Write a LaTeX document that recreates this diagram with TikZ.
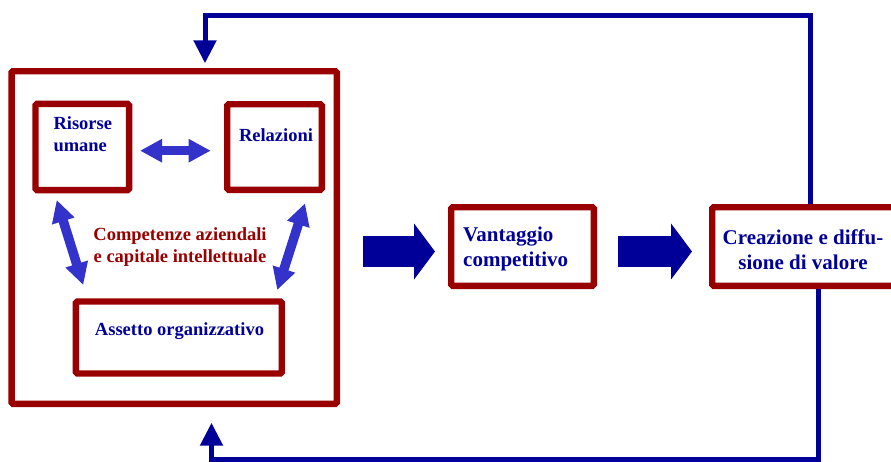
\documentclass[tikz,border=0pt]{standalone}
\usepackage{fontspec}
\setmainfont{Liberation Serif}
\usetikzlibrary{positioning}
\usetikzlibrary{arrows.meta}
\definecolor{boxred}{HTML}{990000}
\definecolor{navy}{HTML}{000099}
\definecolor{duplexblue}{HTML}{3333CC}
\tikzset{
  box/.style={draw=boxred, line width=6.4pt, rounded corners=1.5pt, inner sep=0pt},
  boxtext/.style={text=navy, font=\fontsize{18.5}{22}\selectfont\bfseries, inner sep=0pt},
  bigtext/.style={text=navy, font=\fontsize{21}{25}\selectfont\bfseries, inner sep=0pt},
  duplex/.style={draw=duplexblue, line width=9.5pt, {Triangle[width=22pt,length=22pt]}-{Triangle[width=22pt,length=22pt]}},
  blockarrow/.style={draw=navy, line width=31pt, -{Triangle[width=55pt,length=21pt]}},
  feedback/.style={draw=navy, line width=5pt, -{Triangle[width=22pt,length=23pt]}}
}
\begin{document}
\begin{tikzpicture}[x=1pt,y=-1pt]
  \useasboundingbox (0,0) rectangle (891,461);
  \node[box, minimum width=325.3pt, minimum height=332.6pt] (outer) at (174.2,237.5) {};
  \node[box, minimum width=93.6pt, minimum height=86.2pt] (risorse) at (82.3,147) {};
  \node[box, minimum width=94.6pt, minimum height=85.6pt] (relazioni) at (274.5,147) {};
  \node[box, minimum width=205.9pt, minimum height=72pt] (assetto) at (178.8,337.5) {};
  \node[box, minimum width=142.6pt, minimum height=78.6pt] (vantaggio) at (522.5,246.5) {};
  \node[box, minimum width=192.8pt, minimum height=78.6pt] (creazione) at (808.6,246.5) {};

  \node[boxtext, align=left, anchor=north west] (risorsetxt) at (53.3,116) {Risorse\\umane};
  \node[boxtext, anchor=base] (relaztxt) at (276,141.7) {Relazioni};
  \node[boxtext, anchor=base] (assettotxt) at (179.5,335) {Assetto organizzativo};
  \node[boxtext, text=boxred, align=center, anchor=north] (competenzetxt) at (180,227.5) {Competenze aziendali\\e capitale intellettuale};
  \node[bigtext, align=left, anchor=north west] (vantaggiotxt) at (463,226.7) {Vantaggio\\competitivo};
  \node[bigtext, align=center, anchor=north] (creaztxt) at (803,230) {Creazione e diffu-\\sione di valore};

  \draw[duplex, shorten <=7.7pt, shorten >=13.3pt] ([shift={(0,3.7)}]risorse.east) -- ([shift={(0,3.7)}]relazioni.west);
  \draw[duplex] ([shift={(24.4,6.7)}]risorse.south west) -- ([shift={(10.6,-13.3)}]assetto.north west);
  \draw[duplex] ([shift={(-20,10.3)}]relazioni.south east) -- ([shift={(-7.7,-8.3)}]assetto.north east);

  \coordinate (arrowrow) at (0,251.5);
  \draw[blockarrow, shorten <=23pt, shorten >=13pt] (outer.east |- arrowrow) -- (vantaggio.west |- arrowrow);
  \draw[blockarrow, shorten <=21pt, shorten >=17pt] (vantaggio.east |- arrowrow) -- (creazione.west |- arrowrow);

  \coordinate (topright) at (810.5,15);
  \coordinate (topleft) at (205,15);
  \coordinate (botright) at (818.5,459.5);
  \coordinate (botleft) at (211.5,459.5);
  \draw[feedback, shorten >=4.7pt] (creazione.north -| topright) -- (topright) -- (topleft) -- (outer.north -| topleft);
  \draw[feedback, shorten >=15.7pt] (creazione.south -| botright) -- (botright) -- (botleft) -- (outer.south -| botleft);
\end{tikzpicture}
\end{document}
